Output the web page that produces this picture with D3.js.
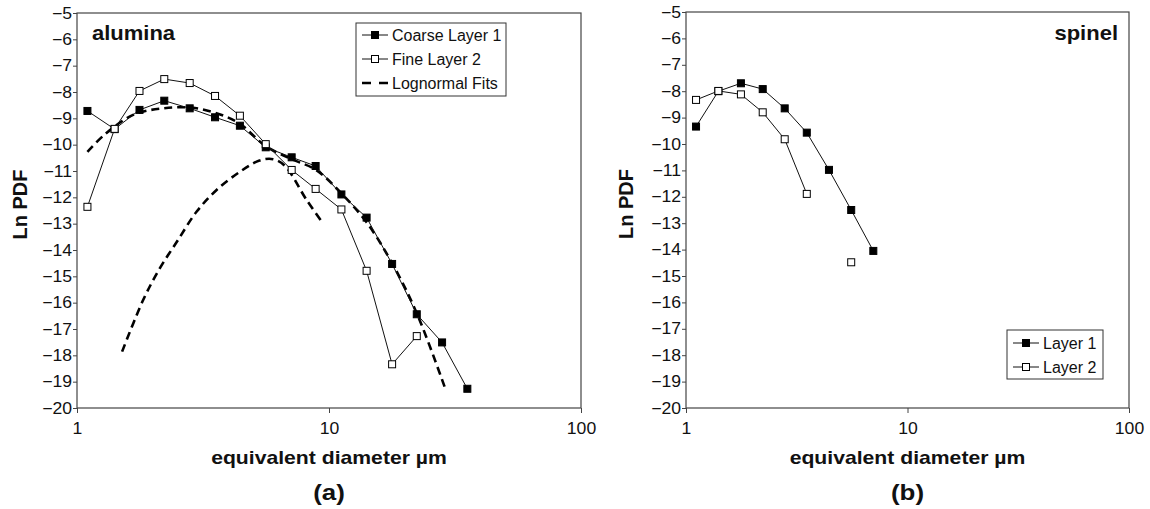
<!DOCTYPE html>
<html>
<head>
<meta charset="utf-8">
<script src="https://cdn.jsdelivr.net/npm/d3@7"></script>
<style>
  body { margin: 0; background: #fff; }
  svg text { font-family: Arial, "Liberation Sans", sans-serif; fill: #111; }
</style>
</head>
<body>
<svg id="chart" width="1150" height="509"></svg>
<script>
// tick values
var yTicks = [-5, -6, -7, -8, -9, -10, -11, -12, -13, -14, -15, -16, -17, -18, -19, -20];
var xTicks = [1, 10, 100];

// (a) alumina
var aluminaDiam = [1.1, 1.41, 1.77, 2.22, 2.8, 3.53, 4.43, 5.61, 7.11, 8.85, 11.2, 14.1, 17.8, 22.3, 28.1, 35.4];
var aluminaCoarse = [-8.72, -9.41, -8.68, -8.33, -8.62, -8.96, -9.28, -10.1, -10.48, -10.81, -11.89, -12.77, -14.53, -16.44, -17.51, -19.27];
var aluminaFine = [-12.36, -9.4, -7.96, -7.51, -7.66, -8.15, -8.9, -9.98, -10.96, -11.68, -12.46, -14.79, -18.34, -17.27, null, null];

// lognormal fits (dashed)
var fitCoarseDiam = [1.1, 1.29, 1.67, 2.2, 2.98, 4.3, 5.6, 7.1, 8.85, 11.2, 14.1, 17.8, 22.3, 28.9];
var fitCoarseLn = [-10.27, -9.61, -8.87, -8.62, -8.62, -9.13, -10.05, -10.55, -10.95, -11.85, -12.95, -14.5, -16.4, -19.25];
var fitFineDiam = [1.51, 1.83, 2.13, 2.49, 2.98, 3.58, 4.43, 5.3, 6.0, 6.69, 8.15, 9.49];
var fitFineLn = [-17.86, -15.9, -14.7, -13.69, -12.55, -11.72, -11.03, -10.6, -10.55, -10.81, -12.1, -13.0];

// (b) spinel
var spinelDiam = [1.11, 1.4, 1.77, 2.22, 2.79, 3.51, 4.42, 5.57, 7.01];
var spinelLayer1 = [-9.34, -8.0, -7.7, -7.92, -8.65, -9.57, -10.98, -12.5, -14.05];
var spinelLayer2 = [-8.33, -7.99, -8.12, -8.8, -9.82, -11.89, null, -14.48, null];

var STRETCH = 1.1;

document.addEventListener("DOMContentLoaded", function () {

  var svg = d3.select("#chart");

  drawPanel({
    left: 77, top: 13, width: 504, height: 395,
    yLabelX: 27,
    title: "alumina", titleX: 92, titleAnchor: "start",
    letter: "(a)",
    series: [
      { diam: aluminaDiam, vals: aluminaCoarse, filled: true },
      { diam: aluminaDiam, vals: aluminaFine, filled: false }
    ],
    fits: [
      { diam: fitCoarseDiam, vals: fitCoarseLn },
      { diam: fitFineDiam, vals: fitFineLn }
    ],
    legend: { x: 356, y: 23, w: 150, h: 73, rowH: 24, first: 12,
      items: [
        { label: "Coarse Layer 1", type: "filled" },
        { label: "Fine Layer 2", type: "open" },
        { label: "Lognormal Fits", type: "dash" }
      ] }
  });

  drawPanel({
    left: 686, top: 12, width: 443, height: 396,
    yLabelX: 633,
    title: "spinel", titleX: 1118, titleAnchor: "end",
    letter: "(b)",
    series: [
      { diam: spinelDiam, vals: spinelLayer1, filled: true },
      { diam: spinelDiam, vals: spinelLayer2, filled: false }
    ],
    fits: [],
    legend: { x: 1007, y: 330, w: 96, h: 49, rowH: 24, first: 13,
      items: [
        { label: "Layer 1", type: "filled" },
        { label: "Layer 2", type: "open" }
      ] }
  });

  function drawPanel(cfg) {
    var x = d3.scaleLog().domain([1, 100]).range([0, cfg.width]);
    var y = d3.scaleLinear().domain([-20, -5]).range([cfg.height, 0]);

    var g = svg.append("g").attr("transform", "translate(" + cfg.left + "," + cfg.top + ")");

    g.append("rect")
      .attr("width", cfg.width).attr("height", cfg.height)
      .attr("fill", "none").attr("stroke", "#444").attr("stroke-width", 1.2);

    var yAxis = g.append("g")
      .call(d3.axisLeft(y).tickValues(yTicks).tickSize(4).tickFormat(d3.format("d")));
    yAxis.select(".domain").remove();
    yAxis.selectAll("line").attr("stroke", "#444");
    yAxis.selectAll("text")
      .attr("font-size", 16).attr("font-family", null)
      .attr("x", -5 / STRETCH)
      .attr("transform", "scale(" + STRETCH + ",1)");

    var xAxis = g.append("g").attr("transform", "translate(0," + cfg.height + ")")
      .call(d3.axisBottom(x).tickValues(xTicks).tickSize(5).tickPadding(10).tickFormat(d3.format("d")));
    xAxis.select(".domain").remove();
    xAxis.selectAll("line").attr("stroke", "#444");
    xAxis.selectAll("text")
      .attr("font-size", 16).attr("font-family", null)
      .attr("transform", "scale(" + STRETCH + ",1)");

    // axis titles
    svg.append("text")
      .attr("transform", "translate(" + cfg.yLabelX + "," + (cfg.top + cfg.height / 2 - 6) + ") rotate(-90)")
      .attr("text-anchor", "middle").attr("font-size", 20).attr("font-weight", "bold")
      .text("Ln PDF");

    g.append("text")
      .attr("transform", "translate(" + (cfg.width / 2) + "," + (cfg.height + 56) + ") scale(" + STRETCH * 1.07 + ",1)")
      .attr("text-anchor", "middle").attr("font-size", 18).attr("font-weight", "bold")
      .text("equivalent diameter \u00b5m");

    g.append("text")
      .attr("transform", "translate(" + (cfg.width / 2) + "," + (cfg.height + 92) + ") scale(" + STRETCH * 1.07 + ",1)")
      .attr("text-anchor", "middle").attr("font-size", 22).attr("font-weight", "bold")
      .text(cfg.letter);

    svg.append("text")
      .attr("transform", "translate(" + cfg.titleX + ",40) scale(" + STRETCH + ",1)")
      .attr("text-anchor", cfg.titleAnchor).attr("font-size", 20).attr("font-weight", "bold")
      .text(cfg.title);

    // fits
    var fitLine = d3.line()
      .x(function (d) { return x(d[0]); })
      .y(function (d) { return y(d[1]); })
      .curve(d3.curveCatmullRom);

    cfg.fits.forEach(function (f) {
      g.append("path")
        .datum(f.diam.map(function (d, i) { return [d, f.vals[i]]; }))
        .attr("d", fitLine)
        .attr("fill", "none").attr("stroke", "#000")
        .attr("stroke-width", 2.6).attr("stroke-dasharray", "8,5");
    });

    // data series
    var dataLine = d3.line()
      .defined(function (d) { return d[1] != null; })
      .x(function (d) { return x(d[0]); })
      .y(function (d) { return y(d[1]); });

    cfg.series.forEach(function (s) {
      var pts = s.diam.map(function (d, i) { return [d, s.vals[i]]; });
      g.append("path")
        .datum(pts)
        .attr("d", dataLine)
        .attr("fill", "none").attr("stroke", "#111").attr("stroke-width", 1);

      g.selectAll(null)
        .data(pts.filter(function (p) { return p[1] != null; }))
        .enter()
        .append("rect")
        .attr("x", function (d) { return x(d[0]) - 3.5; })
        .attr("y", function (d) { return y(d[1]) - 3.5; })
        .attr("width", 7).attr("height", 7)
        .attr("fill", s.filled ? "#000" : "#fff")
        .attr("stroke", "#000").attr("stroke-width", 1);
    });

    // legend
    var L = cfg.legend;
    var lg = svg.append("g").attr("transform", "translate(" + L.x + "," + L.y + ")");
    lg.append("rect")
      .attr("width", L.w).attr("height", L.h)
      .attr("fill", "#fff").attr("stroke", "#333").attr("stroke-width", 1);

    L.items.forEach(function (it, i) {
      var cy = L.first + i * L.rowH;
      var row = lg.append("g").attr("transform", "translate(0," + cy + ")");
      if (it.type === "dash") {
        row.append("line")
          .attr("x1", 6).attr("x2", 32).attr("y1", 0).attr("y2", 0)
          .attr("stroke", "#000").attr("stroke-width", 2.6).attr("stroke-dasharray", "9,8");
      } else {
        row.append("line")
          .attr("x1", 6).attr("x2", 32).attr("y1", 0).attr("y2", 0)
          .attr("stroke", "#111").attr("stroke-width", 1);
        row.append("rect")
          .attr("x", 15.5).attr("y", -3.5).attr("width", 7).attr("height", 7)
          .attr("fill", it.type === "filled" ? "#000" : "#fff")
          .attr("stroke", "#000");
      }
      row.append("text")
        .attr("x", 36).attr("dy", "0.35em")
        .attr("font-size", 16)
        .text(it.label);
    });
  }

});
</script>
</body>
</html>
